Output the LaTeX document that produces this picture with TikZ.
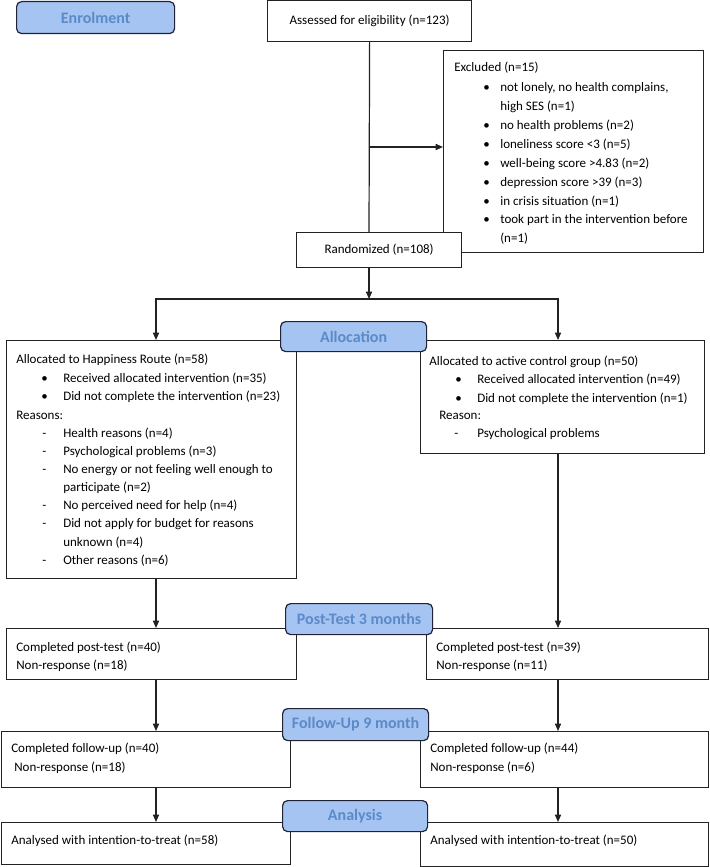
\documentclass[tikz,border=0pt]{standalone}
\usepackage{fontspec}
\setmainfont{Carlito}
\usetikzlibrary{arrows.meta}
\definecolor{lblfill}{HTML}{A6C4F2}
\definecolor{lbltext}{HTML}{5A8AC8}
\definecolor{lbldraw}{HTML}{1E2436}
\definecolor{edge}{HTML}{222222}
\tikzset{
  box/.style={draw=edge, line width=0.9pt, fill=white, rectangle, inner sep=0, anchor=north west,
              font=\fontsize{9.75pt}{12pt}\selectfont},
  bx/.style 2 args={minimum width=#1*0.75pt, minimum height=#2*0.75pt},
  lbl/.style={draw=lbldraw, fill=lblfill, rounded corners=3.75pt, line width=0.9pt, inner sep=0,
              anchor=north west, text=lbltext, font=\fontsize{12pt}{14pt}\selectfont\bfseries},
  txt/.style={font=\fontsize{9.75pt}{12pt}\selectfont, anchor=base west, inner sep=0, text=black},
  arr/.style={draw=edge, line width=0.9pt, -{Triangle[length=5.5pt,width=4.6pt]}},
  ln/.style={draw=edge, line width=0.9pt}
}
\newcommand\TL[4]{\node[txt] (#1) at (#2,#3) {#4};}
\begin{document}
\begin{tikzpicture}[x=0.75pt,y=-0.75pt]
\useasboundingbox (0,0) rectangle (710,867);
\fill[white] (0,0) rectangle (710,867);

% enrolment
\node[lbl, bx={158}{32}] (enrol) at (16,1) {Enrolment};
\node[box, bx={204}{41}] (assess) at (267,0) {Assessed for eligibility (n=123)};

% excluded
\node[box, bx={260}{202}] (excl) at (443,50) {};
\TL{e0}{454}{72}{Excluded (n=15)}
\TL{eb1}{483}{92}{\textbullet}
\TL{e1}{500}{92}{not lonely, no health complains,}
\TL{e1b}{500}{110}{high SES (n=1)}
\TL{eb2}{483}{129}{\textbullet}
\TL{e2}{500}{129}{no health problems (n=2)}
\TL{eb3}{483}{148}{\textbullet}
\TL{e3}{500}{148}{loneliness score <3 (n=5)}
\TL{eb4}{483}{167}{\textbullet}
\TL{e4}{500}{167}{well-being score >4.83 (n=2)}
\TL{eb5}{483}{186}{\textbullet}
\TL{e5}{500}{186}{depression score >39 (n=3)}
\TL{eb6}{483}{205}{\textbullet}
\TL{e6}{500}{205}{in crisis situation (n=1)}
\TL{eb7}{483}{223}{\textbullet}
\TL{e7}{500}{223}{took part in the intervention before}
\TL{e7b}{500}{242}{(n=1)}

% randomized
\node[box, bx={165}{35}] (rand) at (296,232) {Randomized (n=108)};

% allocation boxes
\node[box, bx={290}{238}] (al) at (6,340) {};
\TL{a0}{16}{363}{Allocated to Happiness Route (n=58)}
\TL{ab1}{41}{382}{\textbullet}
\TL{a1}{63}{382}{Received allocated intervention (n=35)}
\TL{ab2}{41}{400}{\textbullet}
\TL{a2}{63}{400}{Did not complete the intervention (n=23)}
\TL{a3}{16}{419}{Reasons:}
\TL{ad1}{42}{437}{-}
\TL{a4}{63}{437}{Health reasons (n=4)}
\TL{ad2}{42}{455}{-}
\TL{a5}{63}{455}{Psychological problems (n=3)}
\TL{ad3}{42}{473}{-}
\TL{a6}{63}{473}{No energy or not feeling well enough to}
\TL{a6b}{63}{491}{participate (n=2)}
\TL{ad4}{42}{509}{-}
\TL{a7}{63}{509}{No perceived need for help (n=4)}
\TL{ad5}{42}{527}{-}
\TL{a8}{63}{527}{Did not apply for budget for reasons}
\TL{a8b}{63}{546}{unknown (n=4)}
\TL{ad6}{42}{564}{-}
\TL{a9}{63}{564}{Other reasons (n=6)}

\node[box, bx={284}{113}] (ar) at (420,340) {};
\TL{r0}{429}{365}{Allocated to active control group (n=50)}
\TL{rb1}{455}{383}{\textbullet}
\TL{r1}{477}{383}{Received allocated intervention (n=49)}
\TL{rb2}{455}{402}{\textbullet}
\TL{r2}{477}{402}{Did not complete the intervention (n=1)}
\TL{r3}{439}{419}{Reason:}
\TL{rd1}{454}{437}{-}
\TL{r4}{477}{437}{Psychological problems}

\node[lbl, bx={146}{30}] (alloc) at (280,321) {Allocation};

% post-test
\node[box, bx={290}{51}] (pl) at (6,628) {};
\TL{p1}{16}{651}{Completed post-test (n=40)}
\TL{p2}{16}{669}{Non-response (n=18)}
\node[box, bx={282}{51}] (pr) at (426,628) {};
\TL{q1}{436}{651}{Completed post-test (n=39)}
\TL{q2}{436}{669}{Non-response (n=11)}
\node[lbl, bx={147}{31}] (post) at (285,603) {Post-Test 3 months};

% follow-up
\node[box, bx={289.3}{56}] (fl) at (0.7,731) {};
\TL{f1}{11}{752}{Completed follow-up (n=40)}
\TL{f2}{14}{771}{Non-response (n=18)}
\node[box, bx={288}{56}] (fr) at (420,731) {};
\TL{g1}{430}{752}{Completed follow-up (n=44)}
\TL{g2}{430}{771}{Non-response (n=6)}
\node[lbl, bx={146}{32}] (fu) at (282,708) {Follow-Up 9 month};

% analysis
\node[box, bx={289.3}{42}] (nl) at (0.7,822) {};
\TL{h1}{11}{844}{Analysed with intention-to-treat (n=58)}
\node[box, bx={288}{44}] (nr) at (420,822) {};
\TL{k1}{430}{844}{Analysed with intention-to-treat (n=50)}
\node[lbl, bx={145}{31}] (ana) at (282,800) {Analysis};

% connectors
\coordinate (cx) at (369,0);
\coordinate (lx) at (156,0);
\coordinate (rx) at (558,0);
\coordinate (jx) at (369,147);
\coordinate (split) at (369,299);
\draw[ln] (assess.south) -- (cx |- rand.north);
\draw[arr] (jx) -- (jx -| excl.west);
\draw[arr] (cx |- rand.south) -- (split);
\draw[arr] (split) -| (lx |- al.north);
\draw[arr] (split) -| (rx |- ar.north);
\draw[arr] (lx |- al.south) -- (lx |- pl.north);
\draw[arr] (rx |- ar.south) -- (rx |- pr.north);
\draw[arr] (lx |- pl.south) -- (lx |- fl.north);
\draw[arr] (rx |- pr.south) -- (rx |- fr.north);
\draw[arr] (lx |- fl.south) -- (lx |- nl.north);
\draw[arr] (rx |- fr.south) -- (rx |- nr.north);
\end{tikzpicture}
\end{document}
